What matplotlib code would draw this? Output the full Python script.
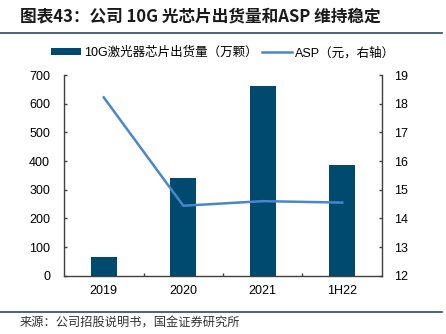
import matplotlib
matplotlib.use("Agg")
import matplotlib.pyplot as plt
from matplotlib.lines import Line2D
from matplotlib.patches import Patch

plt.rcParams['font.family'] = ['Liberation Sans', 'Noto Sans CJK SC', 'DejaVu Sans']

categories = ["2019", "2020", "2021", "1H22"]
shipments = [65, 340, 662, 385]          # 万颗
asp = [18.22, 14.44, 14.60, 14.55]       # 元
left_ticks = [0, 100, 200, 300, 400, 500, 600, 700]
right_ticks = [12, 13, 14, 15, 16, 17, 18, 19]

bar_color = "#004a70"
line_color = "#4a86c8"
spine_color = "#404040"

fig = plt.figure(figsize=(4.46, 3.34), dpi=100)
ax = fig.add_axes([0.1435, 0.1746, 0.7130, 0.6008])
x = list(range(len(categories)))
ax.bar(x, shipments, width=0.33, color=bar_color, zorder=2)
ax.set_xlim(-0.5, len(categories) - 0.5)
ax.set_ylim(0, 700)
ax.set_yticks(left_ticks)
ax.set_xticks(x)
ax.set_xticklabels(categories)
ax.set_xticks([i + 0.5 for i in range(len(categories) - 1)], minor=True)

ax2 = ax.twinx()
ax2.plot(x, asp, color=line_color, lw=1.8, zorder=3)
ax2.set_ylim(12, 19)
ax2.set_yticks(right_ticks)

for a in (ax, ax2):
    a.spines['top'].set_visible(False)
    for s in a.spines.values():
        s.set_color(spine_color)
        s.set_linewidth(1.0)
ax2.spines['left'].set_visible(False)
ax2.spines['bottom'].set_visible(False)
ax.spines['right'].set_visible(False)

ax.tick_params(axis='y', direction='in', length=2.5, width=1, color=spine_color,
               labelsize=9, pad=10)
ax2.tick_params(axis='y', direction='in', length=2.5, width=1, color=spine_color,
                labelsize=9, pad=9)
ax.tick_params(axis='x', which='major', length=0, labelsize=9, pad=7)
ax.tick_params(axis='x', which='minor', direction='in', length=2.5, width=1,
               color=spine_color)

handles = [Patch(facecolor=bar_color, edgecolor='none'),
           Line2D([0], [0], color=line_color, lw=1.8)]
labels = ["10G激光器芯片出货量（万颗）", "ASP（元，右轴）"]
fig.legend(handles, labels, loc='center', bbox_to_anchor=(0.5, 1 - 53 / 334),
           ncol=2, frameon=False, fontsize=9, handlelength=2.4, handleheight=0.5,
           columnspacing=0.3, handletextpad=0.3)

fig.text(0.045, 1 - 16 / 334, "图表43：公司 10G 光芯片出货量和ASP 维持稳定",
         fontsize=12, fontweight='bold', style='italic', va='center', ha='left',
         color="#1a1a1a", family=['Noto Sans CJK SC', 'DejaVu Sans'])
fig.add_artist(Line2D([0.0, 0.99], [1 - 32.5 / 334] * 2, color="#2b4a66", lw=1.2))
fig.add_artist(Line2D([0.0, 0.99], [1 - 311.5 / 334] * 2, color="#2b4a66", lw=1.2))
fig.text(0.045, 1 - 323.5 / 334, "来源：公司招股说明书，国金证券研究所",
         fontsize=8.8, va='center', ha='left', color="#333333",
         family=['Noto Sans CJK SC', 'DejaVu Sans'])

fig.savefig("out.png", dpi=100)
